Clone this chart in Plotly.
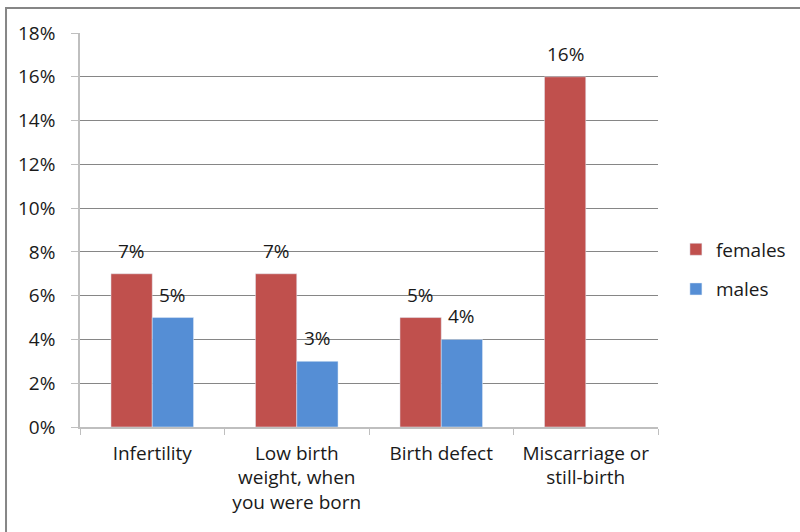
import plotly.graph_objects as go

categories = ["Infertility", "Low birth<br>weight, when<br>you were born", "Birth defect", "Miscarriage or<br>still-birth"]
females = [0.07, 0.07, 0.05, 0.16]
males = [0.05, 0.03, 0.04, None]
y_ticks = [0, 0.02, 0.04, 0.06, 0.08, 0.10, 0.12, 0.14, 0.16, 0.18]

RED = "#C0504D"
BLUE = "#558ED5"
FONT = "Open Sans"
TEXT = "#1a1a1a"
SIZE = 19

fig = go.Figure()
fig.add_trace(go.Bar(name="females", x=categories, y=females, marker_color=RED,
                     legendgroup="f"))
fig.add_trace(go.Bar(name="males", x=categories, y=males, marker_color=BLUE,
                     legendgroup="m"))

# value labels above each bar
bar_shift = 20.6
for series, dx in ((females, -bar_shift), (males, bar_shift)):
    for cat, v in zip(categories, series):
        if v is None:
            continue
        fig.add_annotation(x=cat, y=v, xref="x", yref="y", text=f"{v*100:.0f}%",
                           showarrow=False, yanchor="bottom", xshift=dx, yshift=8,
                           font=dict(family=FONT, size=SIZE, color=TEXT))

# outer chart border
fig.add_shape(type="rect", xref="paper", yref="paper",
              x0=-0.128, x1=1.5, y0=-0.5, y1=1.0635,
              line=dict(color="#868686", width=2), layer="below")

fig.update_layout(
    width=800, height=532,
    margin=dict(l=80, r=142, t=33, b=105, autoexpand=False),
    plot_bgcolor="white", paper_bgcolor="white",
    barmode="group", bargap=0.4286, bargroupgap=0,
    font=dict(family=FONT, size=SIZE, color=TEXT),
    showlegend=True,
    legend=dict(x=1.031, xanchor="left", y=0.40, yanchor="middle",
                traceorder="grouped", tracegroupgap=12,
                font=dict(family=FONT, size=SIZE, color=TEXT),
                itemwidth=30),
)
fig.update_xaxes(showline=True, linecolor="#BFBFBF", linewidth=1.5,
                 ticks="outside", tickson="boundaries", ticklen=6,
                 tickcolor="#BFBFBF", ticklabelstandoff=8)
fig.update_yaxes(range=[0, 0.18], tickvals=y_ticks, tickformat=".0%",
                 showgrid=True, gridcolor="#868686", gridwidth=1,
                 showline=True, linecolor="#BFBFBF", linewidth=1.5,
                 ticks="outside", ticklen=7, tickcolor="#BFBFBF",
                 ticklabelstandoff=12, zeroline=False)

fig.write_html("out.html")
